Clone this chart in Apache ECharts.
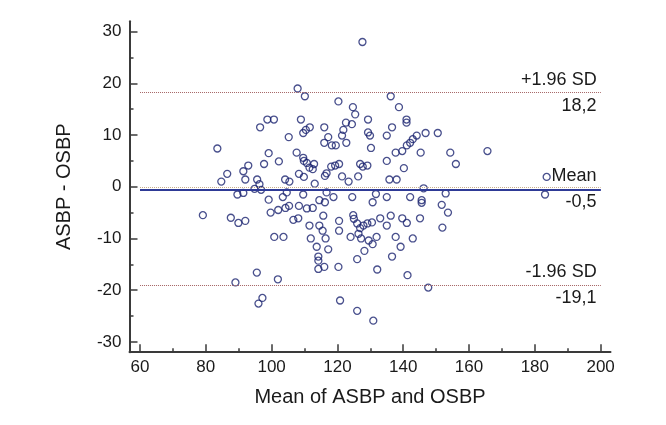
<!DOCTYPE html>
<html><head><meta charset="utf-8">
<script src="https://cdn.jsdelivr.net/npm/echarts@6/dist/echarts.min.js"></script>
<style>html,body{margin:0;padding:0;background:#fff}#c{width:666px;height:425px}</style>
</head><body><div id="c"></div>
<script>
// Mean of ASBP and OSBP (x) and ASBP - OSBP (y)
const meanValues = [
 83.5,96.5,98.7,100.7,105.2,99.1,102.2,97.7,92.9,91.4,86.5,84.7,92.0,95.6,96.3,94.8,96.8,104.1,
 89.6,91.4,79.1,87.6,89.9,92.0,99.1,99.7,102.0,104.2,103.4,100.8,103.6,95.5,101.9,89.0,97.2,96.0,
 127.6,107.9,110.1,120.3,136.2,124.7,138.7,125.4,108.9,129.3,141.0,141.0,111.6,110.4,109.6,116.0,
 122.6,124.4,121.8,121.4,129.3,129.9,136.6,135.0,117.2,116.0,118.3,119.5,122.7,130.2,146.8,150.5,
 144.1,142.9,142.1,141.1,139.7,137.7,145.3,140.2,135.0,107.6,109.6,109.8,110.7,111.5,112.9,112.5,
 118.1,119.3,120.5,116.7,116.2,126.9,127.7,129.1,108.3,109.8,105.4,113.1,121.4,123.4,126.3,135.8,
 138.0,146.2,154.3,156.0,165.6,183.6,152.9,151.7,153.6,151.9,183.1,147.6,131.7,135.0,130.7,142.1,
 145.6,145.6,130.5,133.0,136.2,139.7,141.1,145.1,135.0,131.9,129.5,130.7,137.7,142.9,139.2,136.6,
 132.1,141.3,104.6,109.6,116.7,118.8,114.5,116.2,124.5,105.3,108.3,110.7,112.5,115.7,106.6,108.1,
 111.5,114.5,115.5,120.5,120.5,124.8,125.0,126.0,127.9,129.1,126.9,111.9,116.4,124.0,126.4,127.2,
 113.7,117.2,128.2,114.2,114.2,126.0,114.2,116.0,120.3,120.8,126.0,130.9
];
const diffValues = [
 7.4,11.5,13.0,13.0,9.6,6.5,4.9,4.4,4.1,3.0,2.5,1.0,1.4,1.4,0.5,-0.4,-0.6,1.4,
 -1.5,-1.2,-5.5,-6.0,-7.0,-6.6,-2.5,-5.0,-4.5,-4.1,-2.0,-9.7,-9.7,-16.6,-17.9,-18.5,-21.5,-22.6,
 28.0,19.0,17.5,16.5,17.5,15.4,15.4,14.0,13.0,13.0,13.0,12.4,11.5,11.0,10.4,11.5,
 12.4,12.1,11.0,9.9,10.5,9.9,11.5,9.9,9.6,8.5,8.0,8.0,8.5,7.5,10.4,10.4,
 9.9,9.2,8.5,8.0,6.9,6.6,6.6,3.6,5.0,6.6,5.6,5.0,4.6,3.7,4.4,3.4,
 3.9,4.1,4.4,2.6,2.1,4.4,3.9,4.1,2.5,1.9,1.0,0.6,2.0,1.0,2.0,1.4,
 1.4,-0.3,6.6,4.4,6.9,1.9,-1.3,-3.5,-5.0,-7.9,-1.5,-19.5,-1.4,-2.0,-3.0,-2.0,
 -2.6,-3.1,-6.9,-6.1,-5.6,-6.1,-7.0,-6.1,-7.5,-9.7,-10.4,-11.1,-9.7,-10.0,-11.6,-13.5,
 -16.0,-17.1,-1.1,-1.5,-1.1,-2.0,-2.6,-3.0,-2.0,-3.7,-3.7,-4.2,-4.1,-5.6,-6.4,-6.1,
 -7.5,-7.5,-8.5,-6.6,-8.5,-5.5,-6.2,-7.1,-7.5,-7.1,-8.0,-10.0,-10.0,-9.7,-9.1,-10.0,
 -11.6,-12.1,-12.4,-13.5,-14.3,-14.0,-15.9,-15.5,-15.5,-22.0,-24.0,-25.9
];
const xTickLabels = [60,80,100,120,140,160,180,200];
const xMinorTicks = [70,90,110,130,150,170,190];
const yTickLabels = [-30,-20,-10,0,10,20,30];
const yMinorTicks = [-25,-15,-5,5,15,25];
const limitValues = [18.2, -0.5, -19.1];
const limitNames = ['+1.96 SD', 'Mean', '-1.96 SD'];
const limitTexts = ['18,2', '-0,5', '-19,1'];
const zeroValue = 0;
const lineRange = [60, 200];

const FONT = 'Liberation Sans, Arial, sans-serif';
const axisColor = '#3a3a3a';
const textColor = '#1a1a1a';
const xMin = 56.8, xMax = 203, yMin = -32, yMax = 32;

const points = meanValues.map((x, i) => [x, diffValues[i]]);

const sdLine = { type: 'dotted', color: '#a86a6a', width: 1 };
const meanLine = { type: 'solid', color: '#2e3a96', width: 2 };
const zeroLine = { type: 'dotted', color: '#c9ad8a', width: 1 };

const lblBase = { show: true, color: textColor, fontFamily: FONT, fontSize: 18, distance: 4 };
const mlData = [];
mlData.push([{ coord: [lineRange[0], zeroValue], lineStyle: zeroLine, label: { show: false } },
             { coord: [lineRange[1], zeroValue] }]);
limitValues.forEach((v, i) => {
  const ls = i === 1 ? meanLine : sdLine;
  mlData.push([{ coord: [lineRange[0], v], lineStyle: ls,
                 label: Object.assign({}, lblBase, { position: 'insideEndTop', formatter: limitNames[i] }) },
               { coord: [lineRange[1], v] }]);
  mlData.push([{ coord: [lineRange[0], v], lineStyle: ls,
                 label: Object.assign({}, lblBase, { position: 'insideEndBottom', formatter: limitTexts[i] }) },
               { coord: [lineRange[1], v] }]);
});

function tickAxis(base, pos, values, len) {
  return Object.assign({}, base, {
    position: pos, offset: 0,
    axisLine: { show: false, onZero: false },
    axisTick: { show: true, inside: true, length: len, customValues: values,
                lineStyle: { color: axisColor, width: 1.5 } },
    axisLabel: { show: false }
  });
}

const baseX = { type: 'value', min: xMin, max: xMax, splitLine: { show: false } };
const baseY = { type: 'value', min: yMin, max: yMax, splitLine: { show: false } };

const chart = echarts.init(document.getElementById('c'), null, { renderer: 'canvas' });
chart.setOption({
  backgroundColor: '#ffffff',
  animation: false,
  grid: { left: 129.5, top: 21.3, width: 481, height: 330.9, containLabel: false },
  xAxis: [
    Object.assign({}, baseX, {
      position: 'bottom',
      axisLine: { show: true, onZero: false, lineStyle: { color: axisColor, width: 2 } },
      axisTick: { show: false },
      axisLabel: { show: true, customValues: xTickLabels, color: textColor, fontFamily: FONT, fontSize: 17, margin: 7 },
      name: 'Mean of ASBP and OSBP', nameLocation: 'middle', nameGap: 35,
      nameTextStyle: { color: textColor, fontFamily: FONT, fontSize: 20 }
    }),
    tickAxis(baseX, 'bottom', xTickLabels, 8),
    tickAxis(baseX, 'bottom', xMinorTicks, 4)
  ],
  yAxis: [
    Object.assign({}, baseY, {
      position: 'left',
      axisLine: { show: true, onZero: false, lineStyle: { color: axisColor, width: 2 } },
      axisTick: { show: false },
      axisLabel: { show: true, customValues: yTickLabels, color: textColor, fontFamily: FONT, fontSize: 17, margin: 8 },
      name: 'ASBP - OSBP', nameLocation: 'middle', nameGap: 55,
      nameTextStyle: { color: textColor, fontFamily: FONT, fontSize: 20 }
    }),
    tickAxis(baseY, 'left', yTickLabels, 8),
    tickAxis(baseY, 'left', yMinorTicks, 4)
  ],
  series: [{
    type: 'scatter',
    xAxisIndex: 0, yAxisIndex: 0,
    data: points,
    symbol: 'circle',
    symbolSize: 7,
    itemStyle: { color: 'rgba(255,255,255,0)', borderColor: '#1c2470', borderWidth: 1.3 },
    emphasis: { disabled: true },
    z: 3,
    markLine: {
      silent: true,
      symbol: ['none', 'none'],
      animation: false,
      data: mlData
    }
  }]
});
</script>
</body></html>
